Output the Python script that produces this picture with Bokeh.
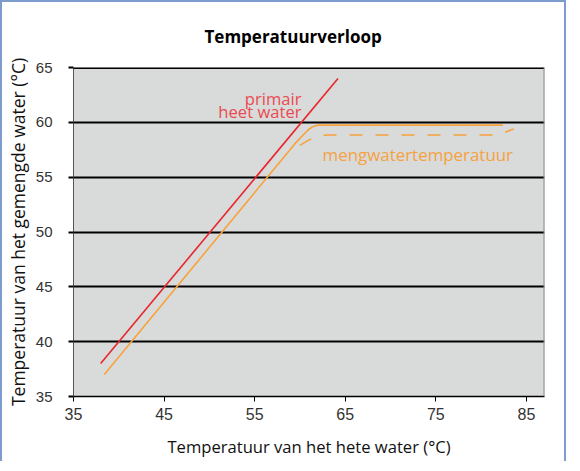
from bokeh.plotting import figure
from bokeh.models import Range1d, FixedTicker, Span, ColumnDataSource
from bokeh.core.properties import value
from bokeh.embed import file_html
from bokeh.resources import INLINE

# ---- data ----
x_ticks = [35, 45, 55, 65, 75, 85]
y_ticks = [35, 40, 45, 50, 55, 60, 65]

primair_x = [38.0, 64.2]
primair_y = [38.0, 64.0]

meng_x = [38.4, 59.5, 60.3, 60.9, 61.4, 62.0, 82.4]
meng_y = [37.0, 58.1, 58.8, 59.3, 59.6, 59.75, 59.75]

meng_dash_x = [60.0, 61.0, 62.0, 63.0, 81.5, 82.5, 83.6]
meng_dash_y = [57.9, 58.4, 58.75, 58.85, 58.85, 59.05, 59.4]

label_primair = ["primair", "heet water"]
label_primair_x = [60.17, 60.17]
label_primair_y = [62.17, 60.95]
label_meng = ["mengwatertemperatuur"]
label_meng_x = [62.5]
label_meng_y = [57.1]

title_text = "Temperatuurverloop"
x_label = "Temperatuur van het hete water (\u00b0C)"
y_label = "Temperatuur van het gemengde water (\u00b0C)"

RED = "#e8262b"
ORANGE = "#f7a23c"
RED_TXT = "#ea4a50"
ORANGE_TXT = "#f5a23f"
TICK_FONT = "Liberation Sans"
LABEL_FONT = "Open Sans"

p = figure(width=566, height=461, output_backend="svg", toolbar_location=None,
           x_range=Range1d(35, 87), y_range=Range1d(35, 65),
           min_border_left=66, min_border_right=24, min_border_top=65,
           min_border_bottom=67, title=title_text)
p.styles = {"border-top": "2px solid #7d9ccd", "border-left": "2px solid #7d9ccd",
            "border-right": "2px solid #7d9ccd", "margin-bottom": "-8px"}

p.background_fill_color = "#d9dada"
p.border_fill_color = "white"
p.outline_line_color = None

p.title.text_font = "Open Sans"
p.title.text_font_style = "bold"
p.title.text_font_size = "17px"
p.title.text_color = "black"
p.title.align = "left"
p.title.offset = 131
p.title.standoff = 39

# axes
p.xaxis.ticker = FixedTicker(ticks=x_ticks)
p.yaxis.ticker = FixedTicker(ticks=y_ticks)
for ax in (p.xaxis, p.yaxis):
    ax.minor_tick_line_color = None
    ax.major_tick_in = 0
    ax.major_tick_out = 5
    ax.major_label_text_font = TICK_FONT
    ax.major_label_text_color = "#333333"
    ax.axis_label_text_font = LABEL_FONT
    ax.axis_label_text_font_style = "normal"
    ax.axis_label_text_color = "#111111"

p.xaxis.axis_label = x_label
p.yaxis.axis_label = y_label
p.xaxis.major_label_text_font_size = "16px"
p.yaxis.major_label_text_font_size = "15px"
p.xaxis.axis_label_text_font_size = "16.6px"
p.yaxis.axis_label_text_font_size = "17.5px"
p.xaxis.axis_line_color = "black"
p.xaxis.axis_line_width = 1.5
p.xaxis.major_tick_line_color = "black"
p.xaxis.major_tick_line_width = 1
p.xaxis.major_label_standoff = 6
p.xaxis.axis_label_standoff = 12
p.yaxis.axis_line_color = "#555555"
p.yaxis.axis_line_width = 1
p.yaxis.major_tick_line_color = "black"
p.yaxis.major_tick_line_width = 2
p.yaxis.major_label_standoff = 16
p.yaxis.axis_label_standoff = 3

p.xgrid.grid_line_color = None
p.ygrid.grid_line_color = "black"
p.ygrid.grid_line_width = 2
p.ygrid.ticker = FixedTicker(ticks=y_ticks[1:])

p.add_layout(Span(location=65, dimension="width", line_color="black", line_width=3))
p.add_layout(Span(location=87, dimension="height", line_color="#8a8a8a", line_width=2))

# lines
p.line(primair_x, primair_y, line_color=RED, line_width=1.6)
p.line(meng_x, meng_y, line_color=ORANGE, line_width=1.6)
p.line(meng_dash_x, meng_dash_y, line_color=ORANGE, line_width=1.6, line_dash="13 13")

src_p = ColumnDataSource(dict(x=label_primair_x, y=label_primair_y, t=label_primair))
p.text(x="x", y="y", text="t", source=src_p, text_align="right",
       text_baseline="alphabetic", text_color=RED_TXT,
       text_font=value(LABEL_FONT), text_font_size="16.6px")
src_m = ColumnDataSource(dict(x=label_meng_x, y=label_meng_y, t=label_meng))
p.text(x="x", y="y", text="t", source=src_m, text_align="left",
       text_baseline="alphabetic", text_color=ORANGE_TXT,
       text_font=value(LABEL_FONT), text_font_size="16.9px")

open("out.html", "w").write(file_html(p, INLINE))
